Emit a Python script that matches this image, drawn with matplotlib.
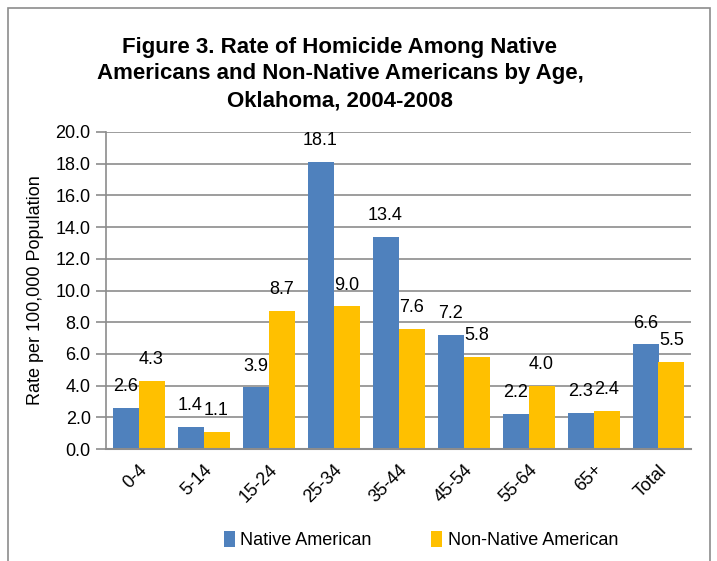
import numpy as np
import matplotlib.pyplot as plt
from matplotlib.patches import Rectangle
from matplotlib import font_manager

# Data
age_groups = ['0-4', '5-14', '15-24', '25-34', '35-44', '45-54', '55-64', '65+', 'Total']
native = [2.6, 1.4, 3.9, 18.1, 13.4, 7.2, 2.2, 2.3, 6.6]
non_native = [4.3, 1.1, 8.7, 9.0, 7.6, 5.8, 4.0, 2.4, 5.5]

# Pick a narrow font if available
names = {f.name for f in font_manager.fontManager.ttflist}
family = 'Liberation Sans Narrow' if 'Liberation Sans Narrow' in names else 'Liberation Sans'
plt.rcParams['font.family'] = [family, 'DejaVu Sans']

blue = '#4F81BD'
orange = '#FFC000'
grey = '#8c8c8c'

fig = plt.figure(figsize=(7.17, 5.61), dpi=100)
fig.patches.append(Rectangle((8 / 717, -0.1), 702 / 717, 1.1 - 8 / 561,
                             transform=fig.transFigure, fill=False,
                             edgecolor=grey, linewidth=1.2))

ax = fig.add_axes([106 / 717, 1 - 449 / 561, 585 / 717, 317 / 561])

x = np.arange(len(age_groups))
w = 0.4
b1 = ax.bar(x - w / 2, native, w, color=blue, label='Native American')
b2 = ax.bar(x + w / 2, non_native, w, color=orange, label='Non-Native American')

for bars, vals in ((b1, native), (b2, non_native)):
    for r, v in zip(bars, vals):
        ax.text(r.get_x() + r.get_width() / 2, v + 0.8, f'{v:.1f}',
                ha='center', va='bottom', fontsize=13)

ax.set_xlim(-0.5, len(age_groups) - 0.5)
ax.set_ylim(0, 20)
ax.set_yticks(np.arange(0, 20.1, 2))
ax.set_yticklabels([f'{t:.1f}' for t in np.arange(0, 20.1, 2)], fontsize=13)
ax.set_xticks(x)
ax.set_xticklabels(age_groups, rotation=45, ha='right', rotation_mode='anchor', fontsize=13)
ax.tick_params(axis='x', length=0, pad=9)
ax.tick_params(axis='y', length=7, color=grey, width=1.2, pad=4)
ax.yaxis.grid(True, color=grey, linewidth=1.2)
ax.set_axisbelow(True)
for s in ['top', 'right']:
    ax.spines[s].set_visible(False)
ax.spines['left'].set_color(grey)
ax.spines['left'].set_linewidth(1.2)
ax.spines['bottom'].set_color(grey)
ax.spines['bottom'].set_linewidth(1.5)

ax.set_ylabel('Rate per 100,000 Population', fontsize=13, labelpad=8)

fig.text(340 / 717, 1 - 74 / 561,
         'Figure 3. Rate of Homicide Among Native\nAmericans and Non-Native Americans by Age,\nOklahoma, 2004-2008',
         ha='center', va='center', fontsize=16, fontweight='bold', linespacing=1.35)

fig.legend(loc='center', bbox_to_anchor=(421 / 717, 1 - 540 / 561), ncol=2,
           frameon=False, fontsize=13, handlelength=0.6, handleheight=1.0,
           handletextpad=0.3, columnspacing=3.3)

fig.savefig('out.png', dpi=100)
